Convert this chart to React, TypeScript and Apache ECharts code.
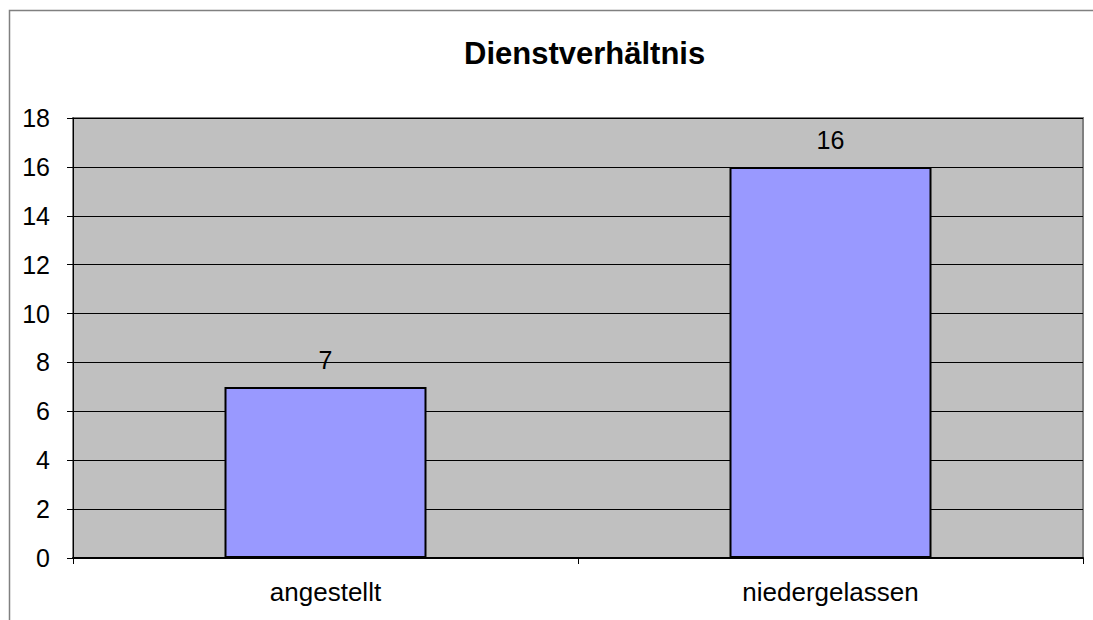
import React, { useEffect, useRef } from "react";
import * as echarts from "echarts";

const categories = ["angestellt", "niedergelassen"];
const values = [7, 16];
const title = "Dienstverhältnis";

export default function App() {
  const ref = useRef<HTMLDivElement>(null);
  useEffect(() => {
    const chart = echarts.init(ref.current!, null, { renderer: "svg" });
    chart.setOption({
      animation: false,
      backgroundColor: "#ffffff",
      textStyle: { fontFamily: "Liberation Sans, Arial, sans-serif" },
      title: {
        text: title,
        left: 464,
        top: 38,
        padding: 0,
        textStyle: { fontSize: 31, fontWeight: "bold", color: "#000", fontFamily: "Liberation Sans, Arial, sans-serif" },
      },
      graphic: [
        {
          type: "rect",
          shape: { x: 9.5, y: 10.5, width: 1200, height: 700 },
          style: { fill: "none", stroke: "#808080", lineWidth: 1.5 },
          silent: true,
        },
      ],
      grid: {
        left: 73,
        top: 118,
        right: 10,
        bottom: 62,
        show: true,
        backgroundColor: "#C0C0C0",
        borderColor: "#808080",
        borderWidth: 2,
      },
      xAxis: {
        type: "category",
        data: categories,
        axisLine: { show: true, lineStyle: { color: "#000", width: 2 } },
        axisTick: { show: true, length: 6, lineStyle: { color: "#000" } },
        axisLabel: { fontSize: 26, color: "#000", margin: 21 },
      },
      yAxis: {
        type: "value",
        min: 0,
        max: 18,
        interval: 2,
        axisLine: { show: true, lineStyle: { color: "#000", width: 1 } },
        axisTick: { show: true, length: 6, lineStyle: { color: "#000" } },
        axisLabel: { fontSize: 25, color: "#000", margin: 23 },
        splitLine: { show: true, lineStyle: { color: "#000", width: 1 } },
      },
      series: [
        {
          type: "bar",
          data: values,
          barWidth: "40%",
          itemStyle: { color: "#9999FF", borderColor: "#000", borderWidth: 2 },
          label: { show: true, position: "top", distance: 14, fontSize: 25, color: "#000" },
        },
      ],
    });
    return () => chart.dispose();
  }, []);
  return <div ref={ref} style={{ position: "absolute", left: 0, top: 0, width: 1093, height: 620 }} />;
}
